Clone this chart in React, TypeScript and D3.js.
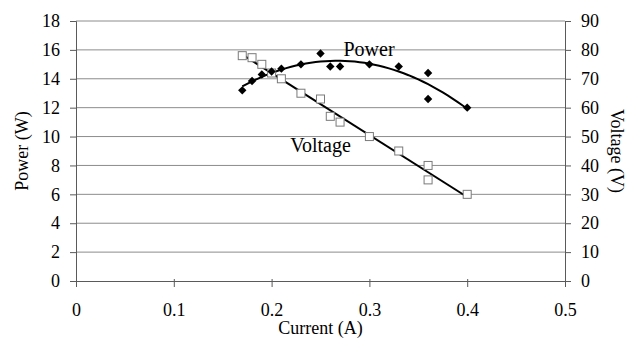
import React, { useEffect, useRef } from 'react';
import * as d3 from 'd3';

// measured data: current (A), power (W)
const powerCurrent = [0.17, 0.18, 0.19, 0.2, 0.21, 0.23, 0.25, 0.26, 0.27, 0.3, 0.33, 0.36, 0.36, 0.4];
const powerValues = [13.2, 13.85, 14.3, 14.5, 14.7, 15.0, 15.75, 14.85, 14.85, 15.0, 14.85, 14.4, 12.6, 12.0];

// measured data: current (A), voltage (V)
const voltageCurrent = [0.17, 0.18, 0.19, 0.2, 0.21, 0.23, 0.25, 0.26, 0.27, 0.3, 0.33, 0.36, 0.36, 0.4];
const voltageValues = [78, 77.3, 75, 72, 70, 65, 63, 57, 55, 50, 45, 40, 35, 30];

const xTicks = [0, 0.1, 0.2, 0.3, 0.4, 0.5];
const powerTicks = [0, 2, 4, 6, 8, 10, 12, 14, 16, 18];
const voltageTicks = [0, 10, 20, 30, 40, 50, 60, 70, 80, 90];

// least squares polynomial fit (like an excel trendline)
const polyFit = (xs: number[], ys: number[], deg: number) => {
  const n = deg + 1;
  const A: number[][] = [];
  for (let i = 0; i < n; i++) {
    A.push([]);
    for (let j = 0; j < n; j++) A[i].push(d3.sum(xs, x => Math.pow(x, i + j)));
    A[i].push(d3.sum(xs, (x, k) => Math.pow(x, i) * ys[k]));
  }
  for (let i = 0; i < n; i++) {
    for (let r = i + 1; r < n; r++) {
      const f = A[r][i] / A[i][i];
      for (let c = i; c <= n; c++) A[r][c] -= f * A[i][c];
    }
  }
  const coef = new Array(n).fill(0);
  for (let i = n - 1; i >= 0; i--) {
    let s = A[i][n];
    for (let j = i + 1; j < n; j++) s -= A[i][j] * coef[j];
    coef[i] = s / A[i][i];
  }
  return (x: number) => coef.reduce((acc, c, i) => acc + c * Math.pow(x, i), 0);
};

const App = () => {
  const svgRef = useRef<SVGSVGElement>(null);

  useEffect(() => {
    const svg = d3.select(svgRef.current);
    svg.selectAll('*').remove();

    const margin = { top: 21, right: 72, bottom: 60, left: 76 };
    const width = 637 - margin.left - margin.right;
    const height = 341 - margin.top - margin.bottom;
    const font = '"Liberation Serif", serif';

    const x = d3.scaleLinear().domain([0, 0.5]).range([0, width]);
    const yP = d3.scaleLinear().domain([0, 18]).range([height, 0]);
    const yV = d3.scaleLinear().domain([0, 90]).range([height, 0]);

    const g = svg.append('g').attr('transform', `translate(${margin.left},${margin.top})`);

    // gridlines
    g.selectAll('.grid')
      .data(powerTicks.filter(t => t > 0))
      .enter().append('line')
      .attr('x1', 0).attr('x2', width)
      .attr('y1', d => yP(d)).attr('y2', d => yP(d))
      .attr('stroke', '#8c8c8c').attr('stroke-width', 1);

    // axes
    const left = g.append('g')
      .call(d3.axisLeft(yP).tickValues(powerTicks).tickSize(6).tickPadding(10).tickFormat(d3.format('d')));
    const right = g.append('g')
      .attr('transform', `translate(${width},0)`)
      .call(d3.axisRight(yV).tickValues(voltageTicks).tickSize(6).tickPadding(10).tickFormat(d3.format('d')));
    const bottom = g.append('g')
      .attr('transform', `translate(0,${height})`)
      .call(d3.axisBottom(x).tickValues(xTicks).tickSize(6).tickPadding(16).tickFormat(d => d === 0 ? '0' : d3.format('.1f')(d as number)));

    [left, right, bottom].forEach(a => {
      a.attr('font-family', font).attr('font-size', 18);
      a.select('.domain').attr('stroke', '#5a5a5a');
      a.selectAll('line').attr('stroke', '#5a5a5a');
      a.selectAll('text').style('font-family', font).style('font-size', '18px').attr('fill', '#000');
    });
    bottom.selectAll('.tick line').attr('y1', -2);

    // trendlines
    const pFit = polyFit(powerCurrent, powerValues, 2);
    const vFit = polyFit(voltageCurrent, voltageValues, 1);
    const xs = d3.range(0.17, 0.4001, 0.005);

    g.append('path')
      .datum(xs)
      .attr('d', d3.line<number>().x(d => x(d)).y(d => yP(pFit(d))))
      .attr('fill', 'none').attr('stroke', '#000').attr('stroke-width', 2);

    g.append('path')
      .datum([0.17, 0.4])
      .attr('d', d3.line<number>().x(d => x(d)).y(d => yV(vFit(d))))
      .attr('fill', 'none').attr('stroke', '#000').attr('stroke-width', 2);

    // voltage markers
    g.selectAll('.sq')
      .data(voltageValues)
      .enter().append('rect')
      .attr('x', (d, i) => x(voltageCurrent[i]) - 4)
      .attr('y', d => yV(d) - 4)
      .attr('width', 8).attr('height', 8)
      .attr('fill', 'white').attr('stroke', '#7a7a7a').attr('stroke-width', 1);

    // power markers
    g.selectAll('.dia')
      .data(powerValues)
      .enter().append('path')
      .attr('d', d3.symbol().type(d3.symbolDiamond2).size(45)())
      .attr('transform', (d, i) => `translate(${x(powerCurrent[i])},${yP(d)})`)
      .attr('fill', '#000');

    // series labels
    g.append('text')
      .attr('x', x(0.2996)).attr('y', yP(15.55))
      .attr('text-anchor', 'middle')
      .style('font-family', font).style('font-size', '20px')
      .text('Power');
    g.append('text')
      .attr('x', x(0.25)).attr('y', yV(44.6))
      .attr('text-anchor', 'middle')
      .style('font-family', font).style('font-size', '20px')
      .text('Voltage');

    // axis titles
    svg.append('text')
      .attr('transform', `translate(28,${margin.top + height / 2}) rotate(-90)`)
      .attr('text-anchor', 'middle')
      .style('font-family', font).style('font-size', '18px')
      .text('Power (W)');
    svg.append('text')
      .attr('transform', `translate(611,${margin.top + height / 2}) rotate(90)`)
      .attr('text-anchor', 'middle')
      .style('font-family', font).style('font-size', '18px')
      .text('Voltage (V)');
    svg.append('text')
      .attr('x', margin.left + width / 2).attr('y', 334)
      .attr('text-anchor', 'middle')
      .style('font-family', font).style('font-size', '18px')
      .text('Current (A)');
  }, []);

  return (
    <svg ref={svgRef} width={637} height={341}
      style={{ position: 'absolute', left: 0, top: 0, background: 'white' }} />
  );
};

export default App;
